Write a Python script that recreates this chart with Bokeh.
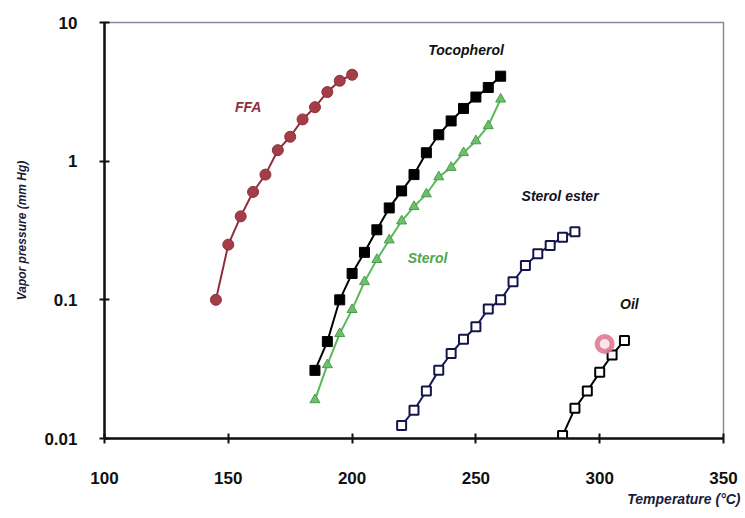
from bokeh.plotting import figure
from bokeh.models import FixedTicker, Label, Title
from bokeh.embed import file_html
from bokeh.resources import INLINE

# ---- data ----
ffa_t = [145, 150, 155, 160, 165, 170, 175, 180, 185, 190, 195, 200]
ffa_p = [0.1, 0.25, 0.4, 0.6, 0.8, 1.2, 1.5, 2.0, 2.45, 3.15, 3.8, 4.2]

toco_t = [185, 190, 195, 200, 205, 210, 215, 220, 225, 230, 235, 240, 245, 250, 255, 260]
toco_p = [0.031, 0.05, 0.10, 0.155, 0.22, 0.32, 0.46, 0.61, 0.8, 1.15, 1.55, 1.95, 2.4, 2.9, 3.4, 4.1]

sterol_t = [185, 190, 195, 200, 205, 210, 215, 220, 225, 230, 235, 240, 245, 250, 255, 260]
sterol_p = [0.019, 0.034, 0.057, 0.085, 0.135, 0.195, 0.27, 0.37, 0.47, 0.58, 0.77, 0.9, 1.15, 1.4, 1.8, 2.8]

ester_t = [220, 225, 230, 235, 240, 245, 250, 255, 260, 265, 270, 275, 280, 285, 290]
ester_p = [0.0124, 0.016, 0.022, 0.031, 0.041, 0.052, 0.064, 0.086, 0.10, 0.135, 0.177, 0.215, 0.247, 0.283, 0.31]

oil_t = [285, 290, 295, 300, 305, 310]
oil_p = [0.0105, 0.0165, 0.022, 0.03, 0.04, 0.051]

blob_t = [302]
blob_p = [0.048]

x_ticks = [100, 150, 200, 250, 300, 350]
y_ticks = [0.01, 0.1, 1, 10]
y_tick_labels = ["0.01", "0.1", "1", "10"]

series_labels = ["FFA", "Tocopherol", "Sterol", "Sterol ester", "Oil"]
label_t = [158, 246, 230.5, 284, 312]
label_p = [2.45, 6.3, 0.2, 0.56, 0.093]
label_colors = ["#8e2f3a", "#111111", "#4fa64f", "#111122", "#111111"]

FONT = "Liberation Sans"

p = figure(width=745, height=518, y_axis_type="log",
           x_range=(100, 350), y_range=(0.01, 10),
           output_backend="svg", toolbar_location=None,
           min_border_left=104, min_border_right=22,
           min_border_top=22, min_border_bottom=80)
p.background_fill_color = "white"
p.border_fill_color = "white"
p.outline_line_color = "#8a8a9a"
p.outline_line_width = 1.5
p.grid.grid_line_color = None

for ax in (p.xaxis[0], p.yaxis[0]):
    ax.axis_line_width = 2.5
    ax.axis_line_color = "#111118"
    ax.major_tick_line_color = "#111118"
    ax.major_tick_line_width = 2
    ax.major_tick_in = 5
    ax.major_tick_out = 5
    ax.minor_tick_line_color = None
    ax.major_label_text_font = FONT
    ax.major_label_text_font_size = "17px"
    ax.major_label_text_font_style = "bold"
    ax.major_label_text_color = "#111111"

p.xaxis.ticker = FixedTicker(ticks=x_ticks)
p.xaxis.major_label_standoff = 28
p.yaxis.ticker = FixedTicker(ticks=y_ticks)
p.yaxis.major_label_overrides = {t: s for t, s in zip(y_ticks, y_tick_labels)}
p.yaxis.major_label_standoff = 22

p.yaxis.axis_label = "Vapor pressure (mm Hg)"
p.yaxis.axis_label_text_font = FONT
p.yaxis.axis_label_text_font_size = "12px"
p.yaxis.axis_label_text_font_style = "bold italic"
p.yaxis.axis_label_text_color = "#1a1a3a"
p.yaxis.axis_label_standoff = 12

p.add_layout(Title(text="Temperature (\u00b0C)", align="right",
                   text_font=FONT, text_font_size="14px",
                   text_font_style="bold italic", text_color="#1a1a3a",
                   offset=-17, standoff=5), "below")

# series
p.line(ffa_t, ffa_p, line_color="#8e2f3a", line_width=2)
p.scatter(ffa_t, ffa_p, marker="circle", size=11, fill_color="#a33d48",
          line_color="#8e2f3a", line_width=1)

p.line(toco_t, toco_p, line_color="#000000", line_width=2)
p.scatter(toco_t, toco_p, marker="square", size=10, fill_color="#000000",
          line_color="#000000")

p.line(sterol_t, sterol_p, line_color="#5cb85c", line_width=2)
p.scatter(sterol_t, sterol_p, marker="triangle", size=10, fill_color="#6dbf6d",
          line_color="#4a9e4a", line_width=1)

p.line(ester_t, ester_p, line_color="#1a1a5e", line_width=2)
p.scatter(ester_t, ester_p, marker="square", size=9, fill_color="white",
          line_color="#15154a", line_width=2)

p.line(oil_t, oil_p, line_color="#000000", line_width=2)
p.scatter(oil_t, oil_p, marker="square", size=9, fill_color="white",
          line_color="#000000", line_width=2)

p.scatter(blob_t, blob_p, marker="circle", size=15, fill_color="#fbe6ec",
          line_color="#e07a94", line_width=5, line_alpha=0.9)

for txt, t, v, c in zip(series_labels, label_t, label_p, label_colors):
    p.add_layout(Label(x=t, y=v, text=txt, text_align="center",
                       text_baseline="middle", text_font=FONT,
                       text_font_size="14px", text_font_style="bold italic",
                       text_color=c))

open("out.html", "w").write(file_html(p, INLINE))
